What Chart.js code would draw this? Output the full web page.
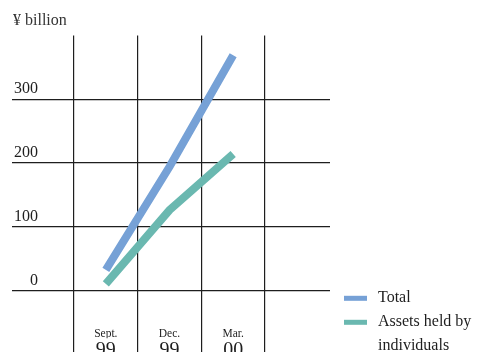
<!DOCTYPE html>
<html>
<head>
<meta charset="utf-8">
<script src="https://cdn.jsdelivr.net/npm/chart.js@4/dist/chart.umd.min.js"></script>
<style>
  html, body { margin: 0; padding: 0; background: #fff; overflow: hidden; width: 479px; height: 352px; }
  #wrap { position: absolute; left: 0; top: 0; width: 479px; height: 370px; }
</style>
</head>
<body>
<div id="wrap"><canvas id="c" width="479" height="370"></canvas></div>
<script>
// Quarter-end values, ¥ billion
const quarters = ['Sept.', 'Dec.', 'Mar.'];
const years = ['99', '99', '00'];
const totalValues = [32, 194, 369];
const individualValues = [10, 126, 214];
const yTicks = [0, 100, 200, 300];
const unitLabel = '¥ billion';
const seriesNames = ['Total', 'Assets held by individuals'];

const SERIF = '"Liberation Serif", "Times New Roman", serif';
const INK = '#1e1e1e';
const TOTAL_COLOR = '#76a1d6';
const INDIV_COLOR = '#6ab8b0';

const useTicks = scale => { scale.ticks = yTicks.map(v => ({ value: v })); };

// Key drawn to the right of the grid, wrapping long names
const seriesKey = {
  id: 'seriesKey',
  afterDraw(chart) {
    const ctx = chart.ctx;
    const x0 = chart.scales.y2.right + 14;
    const tx = x0 + 34;
    const maxW = chart.width - tx;
    let base = 302.3;
    ctx.save();
    ctx.font = '16px ' + SERIF;
    ctx.textBaseline = 'alphabetic';
    ctx.textAlign = 'left';
    chart.data.datasets.forEach(ds => {
      ctx.fillStyle = ds.borderColor;
      ctx.fillRect(x0, base - 6.5, 23, 5);
      ctx.fillStyle = INK;
      const words = ds.label.split(' ');
      let line = '';
      const lines = [];
      words.forEach(w => {
        const t = line ? line + ' ' + w : w;
        if (line && ctx.measureText(t).width > maxW) { lines.push(line); line = w; }
        else line = t;
      });
      if (line) lines.push(line);
      lines.forEach((l, i) => ctx.fillText(l, tx, base + i * 24));
      base += 24 * lines.length;
    });
    ctx.restore();
  }
};

new Chart(document.getElementById('c'), {
  type: 'line',
  data: {
    labels: quarters,
    datasets: [
      {
        label: seriesNames[0],
        data: totalValues,
        borderColor: TOTAL_COLOR,
        backgroundColor: TOTAL_COLOR,
        borderWidth: 8,
        pointRadius: 0,
        tension: 0,
        fill: false,
        order: 1
      },
      {
        label: seriesNames[1],
        data: individualValues,
        borderColor: INDIV_COLOR,
        backgroundColor: INDIV_COLOR,
        borderWidth: 8,
        pointRadius: 0,
        tension: 0,
        fill: false,
        order: 0
      }
    ]
  },
  options: {
    responsive: false,
    animation: false,
    devicePixelRatio: 1,
    layout: { padding: { left: 13, right: 149, top: 0, bottom: 0 } },
    plugins: {
      legend: { display: false },
      tooltip: { enabled: false },
      title: {
        display: true,
        text: unitLabel,
        align: 'start',
        color: '#333',
        font: { family: SERIF, size: 16, weight: 'normal' },
        padding: { top: 11, bottom: 5.4 }
      }
    },
    scales: {
      x: {
        type: 'category',
        offset: true,
        border: { display: false },
        grid: { offset: true, color: INK, lineWidth: 1.2, tickLength: 90, drawTicks: true },
        ticks: {
          color: INK,
          font: { family: SERIF, size: 11.5 },
          padding: -53.7,
          maxRotation: 0, minRotation: 0, autoSkip: false
        },
        afterFit: s => { s.height = 48; }
      },
      x2: {
        type: 'category',
        position: 'bottom',
        labels: years,
        offset: true,
        border: { display: false },
        grid: { display: false, drawTicks: false },
        ticks: {
          color: INK,
          font: { family: SERIF, size: 20 },
          padding: 0.5,
          maxRotation: 0, minRotation: 0, autoSkip: false
        },
        afterFit: s => { s.height = 31.7; }
      },
      y: {
        position: 'left',
        min: 0,
        max: 400,
        border: { display: false },
        afterBuildTicks: useTicks,
        grid: { color: INK, lineWidth: 1.2, tickLength: 62 },
        ticks: {
          color: INK,
          font: { family: SERIF, size: 16 },
          crossAlign: 'near',
          padding: -26,
          labelOffset: -10
        },
        afterFit: s => { s.width = 61; }
      },
      y2: {
        position: 'right',
        min: 0,
        max: 400,
        border: { display: false },
        afterBuildTicks: useTicks,
        grid: { color: INK, lineWidth: 1.2, tickLength: 65, drawOnChartArea: false },
        ticks: { display: false },
        afterFit: s => { s.width = 65; }
      }
    }
  },
  plugins: [seriesKey]
});
</script>
</body>
</html>
